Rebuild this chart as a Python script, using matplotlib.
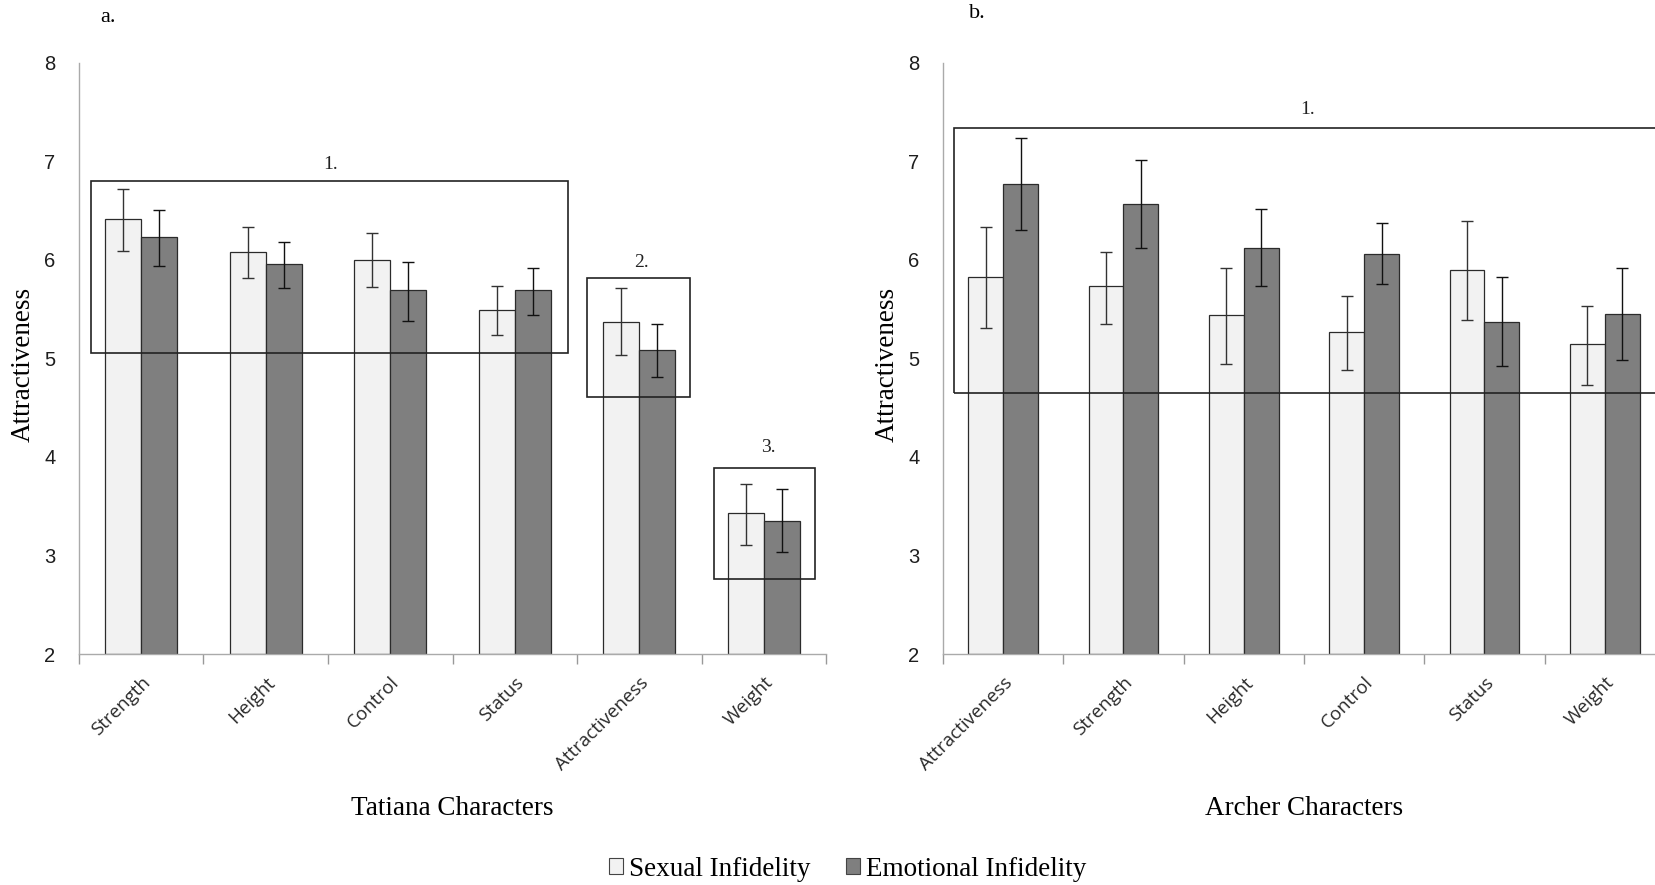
import matplotlib
matplotlib.use("Agg")
import matplotlib.pyplot as plt
import numpy as np
from matplotlib.patches import Rectangle, Patch

# ---------------- data ----------------
tatiana_cats = ["Strength", "Height", "Control", "Status", "Attractiveness", "Weight"]
tatiana_sexual = [6.41, 6.08, 6.00, 5.49, 5.37, 3.43]
tatiana_sexual_lo = [6.09, 5.82, 5.72, 5.24, 5.03, 3.11]
tatiana_sexual_hi = [6.72, 6.33, 6.27, 5.73, 5.71, 3.73]
tatiana_emotional = [6.23, 5.96, 5.69, 5.69, 5.09, 3.35]
tatiana_emotional_lo = [5.94, 5.71, 5.38, 5.44, 4.81, 3.04]
tatiana_emotional_hi = [6.51, 6.18, 5.98, 5.92, 5.35, 3.67]

archer_cats = ["Attractiveness", "Strength", "Height", "Control", "Status", "Weight"]
archer_sexual = [5.83, 5.74, 5.44, 5.27, 5.90, 5.15]
archer_sexual_lo = [5.31, 5.35, 4.94, 4.88, 5.39, 4.73]
archer_sexual_hi = [6.33, 6.08, 5.92, 5.63, 6.39, 5.53]
archer_emotional = [6.77, 6.57, 6.12, 6.06, 5.37, 5.45]
archer_emotional_lo = [6.30, 6.12, 5.73, 5.76, 4.92, 4.98]
archer_emotional_hi = [7.24, 7.01, 6.52, 6.37, 5.83, 5.92]

# group boxes: (x0, x1, y0, y1, label, label_x, label_y)
tatiana_boxes = [(-0.40, 3.43, 5.06, 6.80, "1.", 1.52, 6.97),
                 (3.58, 4.41, 4.61, 5.815, "2.", 4.02, 5.97),
                 (4.60, 5.41, 2.76, 3.89, "3.", 5.04, 4.10)]
archer_boxes = [(-0.41, 5.47, 4.65, 7.34, "1.", 2.53, 7.53)]

series_names = ["Sexual Infidelity", "Emotional Infidelity"]
y_ticks = [2, 3, 4, 5, 6, 7, 8]

LIGHT = "#f2f2f2"
DARK = "#7f7f7f"
SERIF = ["Liberation Serif", "DejaVu Serif"]
NARROW = ["Liberation Sans Narrow", "Liberation Sans", "DejaVu Sans"]
TICKF = ["Open Sans", "DejaVu Sans"]

fig = plt.figure(figsize=(16.56, 8.85), dpi=100)
axL = fig.add_axes([0.0477, 0.261, 0.4511, 0.668])
axR = fig.add_axes([0.5694, 0.261, 0.4360, 0.668])

w = 0.29


def draw(ax, cats, s, slo, shi, e, elo, ehi, boxes, xlabel):
    x = np.arange(len(cats))
    s = np.array(s); e = np.array(e)
    ax.bar(x - w / 2, s - 2, width=w, bottom=2, color=LIGHT, edgecolor="#2b2b2b", linewidth=0.9, zorder=2)
    ax.bar(x + w / 2, e - 2, width=w, bottom=2, color=DARK, edgecolor="#2b2b2b", linewidth=0.9, zorder=2)
    ax.errorbar(x - w / 2, s, yerr=[s - np.array(slo), np.array(shi) - s], fmt="none",
                ecolor="#333333", elinewidth=1.0, capsize=4, capthick=1.0, zorder=3)
    ax.errorbar(x + w / 2, e, yerr=[e - np.array(elo), np.array(ehi) - e], fmt="none",
                ecolor="#111111", elinewidth=1.0, capsize=4, capthick=1.0, zorder=3)
    for (x0, x1, y0, y1, lab, lx, ly) in boxes:
        r = Rectangle((x0, y0), x1 - x0, y1 - y0, fill=False, edgecolor="#222222",
                      linewidth=1.2, zorder=4, clip_on=False)
        ax.add_patch(r)
        ax.text(lx, ly, lab, ha="center", va="center", fontsize=14, family=SERIF, color="#222222")
    ax.set_xlim(-0.5, len(cats) - 0.5)
    ax.set_ylim(2, 8)
    ax.set_yticks(y_ticks)
    ax.set_yticklabels([str(t) for t in y_ticks], family=NARROW, fontsize=14.5, color="#1e1e1e")
    ax.tick_params(axis="y", length=0, pad=17)
    ax.set_xticks(x)
    ax.set_xticklabels(cats, rotation=45, ha="right", rotation_mode="anchor",
                       family=TICKF, fontsize=13.5, color="#2a2a2a")
    ax.tick_params(axis="x", which="major", length=0, pad=14)
    ax.set_xticks(np.arange(len(cats) + 1) - 0.5, minor=True)
    ax.tick_params(axis="x", which="minor", length=7, color="#999999", width=1)
    for sp in ["top", "right"]:
        ax.spines[sp].set_visible(False)
    for sp in ["left", "bottom"]:
        ax.spines[sp].set_color("#aaaaaa")
        ax.spines[sp].set_linewidth(1.0)
    ax.set_ylabel("Attractiveness", family=SERIF, fontsize=19.5)
    ax.yaxis.set_label_coords(-0.058 * 0.4511 / ax.get_position().width, 0.49)
    ax.set_xlabel(xlabel, family=SERIF, fontsize=19.5)
    ax.xaxis.set_label_coords(0.5, -0.24)


draw(axL, tatiana_cats, tatiana_sexual, tatiana_sexual_lo, tatiana_sexual_hi,
     tatiana_emotional, tatiana_emotional_lo, tatiana_emotional_hi, tatiana_boxes, "Tatiana Characters")
draw(axR, archer_cats, archer_sexual, archer_sexual_lo, archer_sexual_hi,
     archer_emotional, archer_emotional_lo, archer_emotional_hi, archer_boxes, "Archer Characters")

fig.text(100 / 1656, 1 - 17 / 885, "a.", family=SERIF, fontsize=16, ha="left", va="center")
fig.text(969 / 1656, 1 - 14 / 885, "b.", family=SERIF, fontsize=16, ha="left", va="center")

handles = [Patch(facecolor=LIGHT, edgecolor="#444444", linewidth=0.8),
           Patch(facecolor=DARK, edgecolor="#444444", linewidth=0.8)]
fig.legend(handles, series_names, loc="center", bbox_to_anchor=(0.512, 1 - 869 / 885), ncol=2,
           frameon=False, prop={"family": SERIF, "size": 19.5}, handlelength=0.5, handleheight=0.5,
           handletextpad=0.25, columnspacing=1.3)

fig.savefig("out.png", dpi=100)
